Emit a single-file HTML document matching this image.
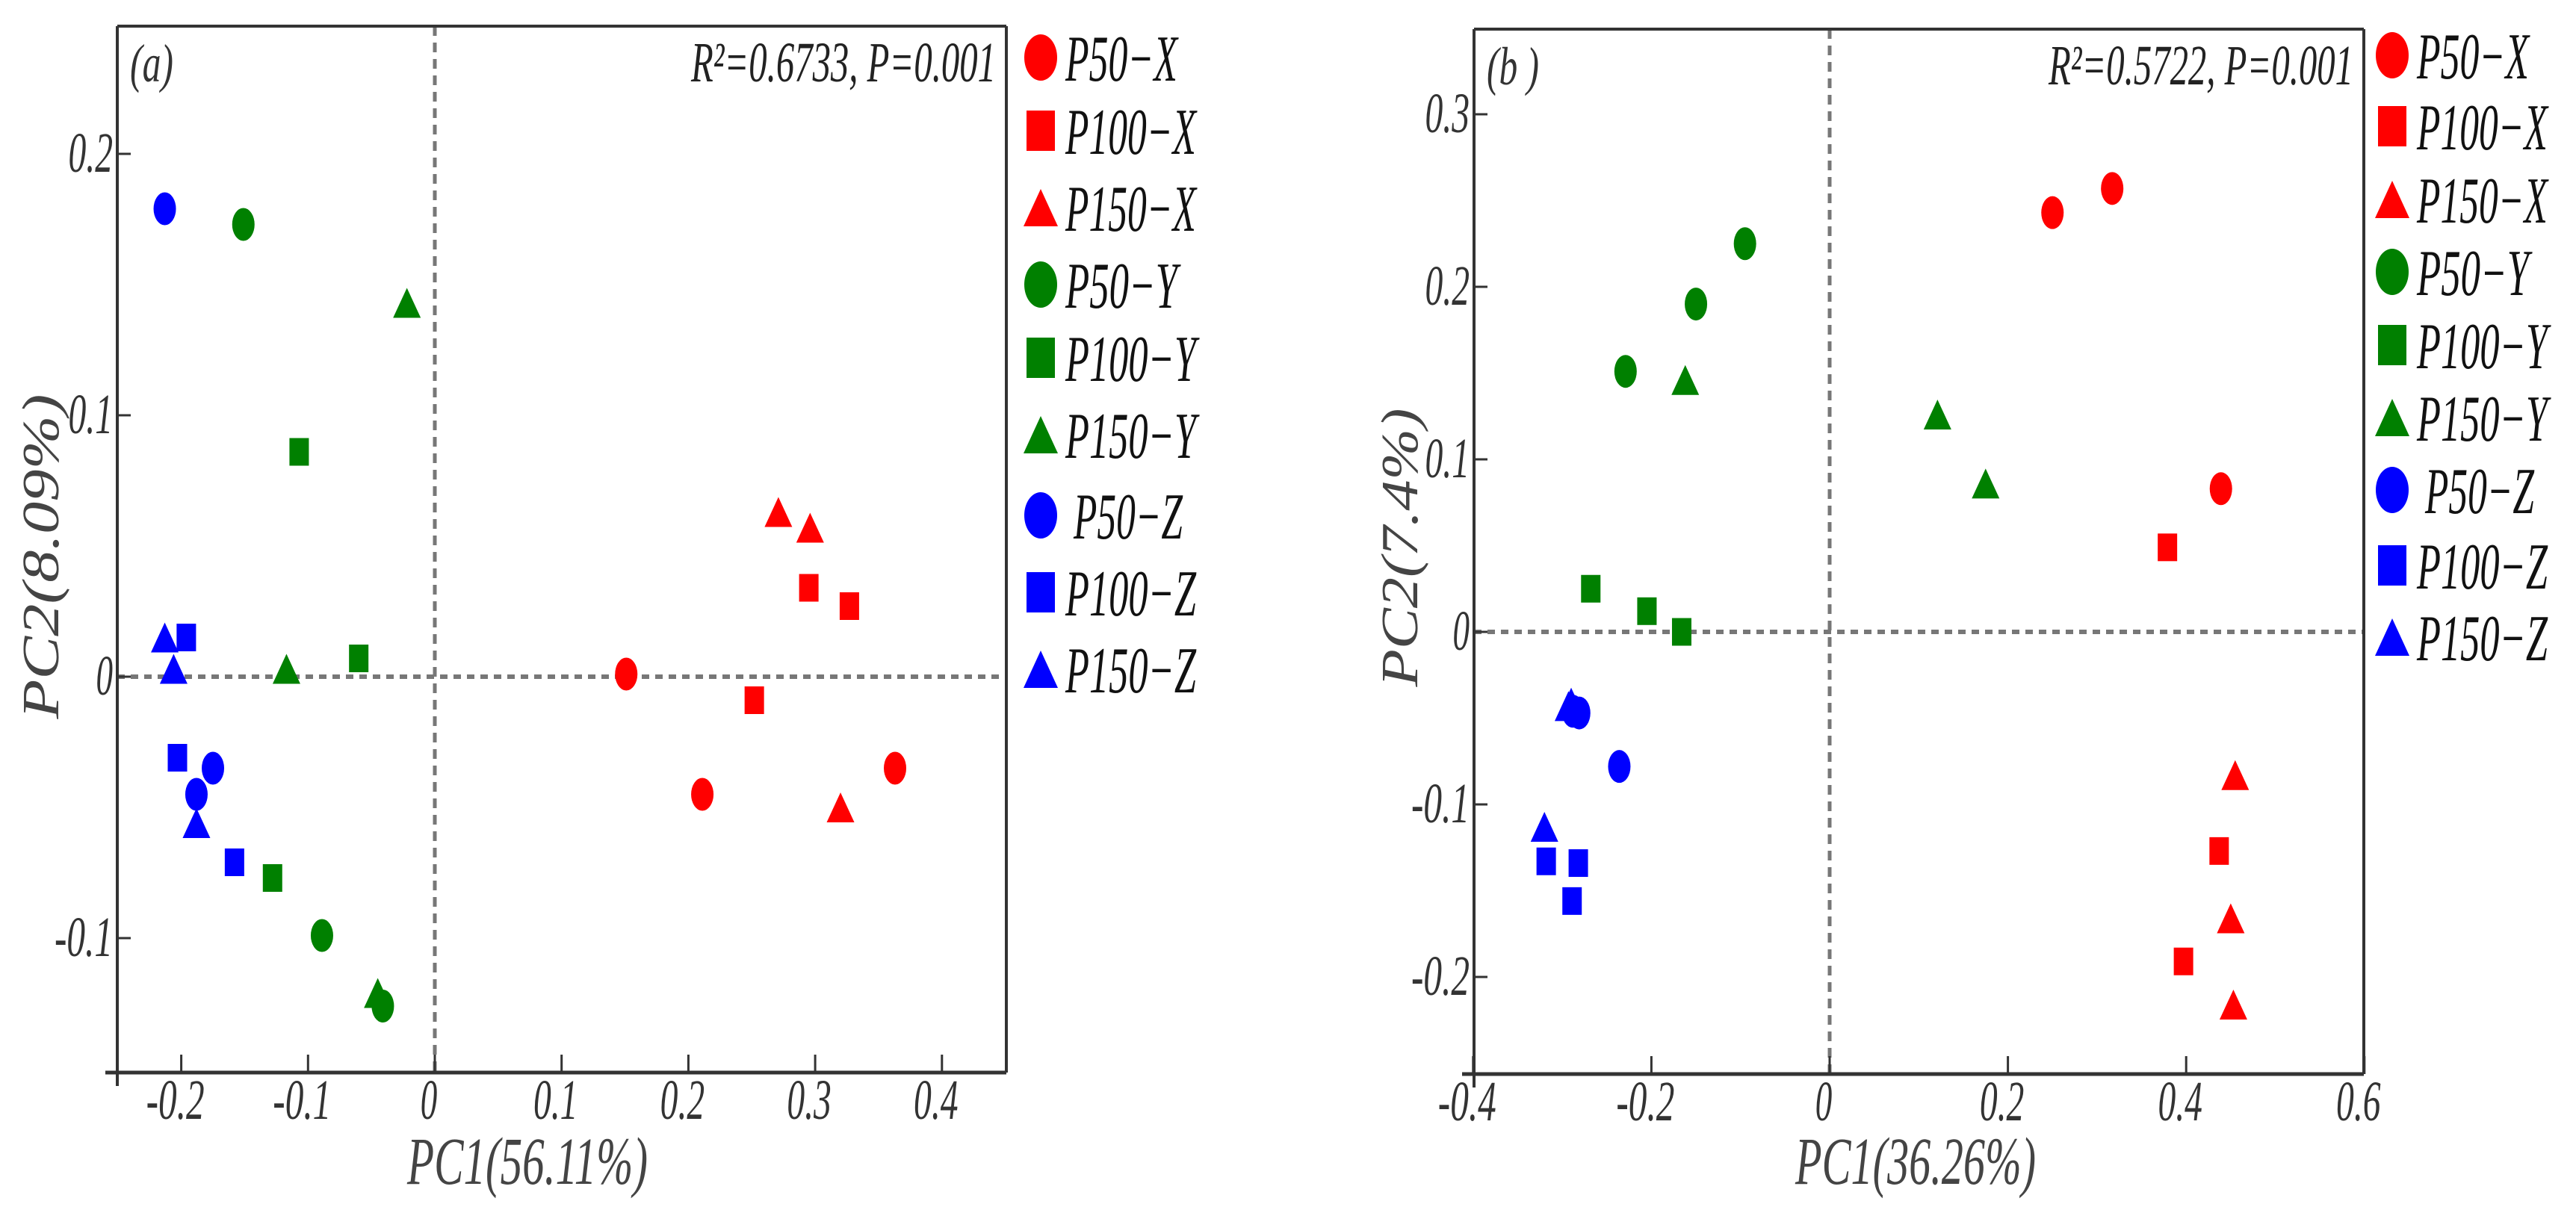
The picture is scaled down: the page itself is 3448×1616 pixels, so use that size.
<!DOCTYPE html>
<html><head><meta charset="utf-8"><style>
html,body{margin:0;padding:0;background:#fff;}
svg{display:block;}
text{font-family:"Liberation Serif",serif;font-style:italic;}
</style></head><body>
<svg id="fig" width="3448" height="1616" viewBox="0 0 3448 1616" xmlns="http://www.w3.org/2000/svg"></svg>
<script>
// ---- shared data ----
const groups = ["P50-X","P100-X","P150-X","P50-Y","P100-Y","P150-Y","P50-Z","P100-Z","P150-Z"];
const groupLabels = ["P50\u2212X","P100\u2212X","P150\u2212X","P50\u2212Y","P100\u2212Y","P150\u2212Y","P50\u2212Z","P100\u2212Z","P150\u2212Z"];
const groupColors = ["#ff0000","#ff0000","#ff0000","#008000","#008000","#008000","#0000ff","#0000ff","#0000ff"];
const groupShapes = ["circle","square","triangle","circle","square","triangle","circle","square","triangle"];

// ---- panel (a) data: PC1 / PC2 per group (3 samples each) ----
const aPC1 = [
  [0.151, 0.211, 0.363],
  [0.295, 0.327, 0.252],
  [0.271, 0.296, 0.320],
  [-0.151, -0.089, -0.041],
  [-0.107, -0.060, -0.128],
  [-0.022, -0.117, -0.045],
  [-0.213, -0.175, -0.188],
  [-0.196, -0.203, -0.158],
  [-0.213, -0.206, -0.188]
];
const aPC2 = [
  [0.001, -0.045, -0.035],
  [0.034, 0.027, -0.009],
  [0.063, 0.057, -0.050],
  [0.173, -0.099, -0.126],
  [0.086, 0.007, -0.077],
  [0.143, 0.003, -0.121],
  [0.179, -0.035, -0.045],
  [0.015, -0.031, -0.071],
  [0.015, 0.003, -0.056]
];
const aXTicks = [-0.2, -0.1, 0, 0.1, 0.2, 0.3, 0.4];
const aXTickLabels = ["-0.2","-0.1","0","0.1","0.2","0.3","0.4"];
const aYTicks = [-0.1, 0, 0.1, 0.2];
const aYTickLabels = ["-0.1","0","0.1","0.2"];

// ---- panel (b) data ----
const bPC1 = [
  [0.250, 0.317, 0.439],
  [0.379, 0.437, 0.397],
  [0.455, 0.450, 0.453],
  [-0.095, -0.150, -0.229],
  [-0.268, -0.205, -0.166],
  [-0.162, 0.121, 0.175],
  [-0.281, -0.236, -0.288],
  [-0.318, -0.282, -0.289],
  [-0.290, -0.320, -0.293]
];
const bPC2 = [
  [0.243, 0.257, 0.083],
  [0.049, -0.127, -0.191],
  [-0.083, -0.166, -0.216],
  [0.225, 0.190, 0.151],
  [0.025, 0.012, 0.000],
  [0.146, 0.126, 0.086],
  [-0.047, -0.078, -0.046],
  [-0.133, -0.134, -0.156],
  [-0.041, -0.113, -0.043]
];
const bXTicks = [-0.4, -0.2, 0, 0.2, 0.4, 0.6];
const bXTickLabels = ["-0.4","-0.2","0","0.2","0.4","0.6"];
const bYTicks = [-0.2, -0.1, 0, 0.1, 0.2, 0.3];
const bYTickLabels = ["-0.2","-0.1","0","0.1","0.2","0.3"];

const NS = "http://www.w3.org/2000/svg";
const svg = document.getElementById("fig");
function mk(tag, attrs, parent){
  const e = document.createElementNS(NS, tag);
  for (const k in attrs) e.setAttribute(k, attrs[k]);
  (parent||svg).appendChild(e);
  return e;
}
function drawMarker(shape, cx, cy, w, h, color, parent){
  let e;
  if (shape === "circle") e = mk("ellipse", {cx:cx, cy:cy, rx:w/2, ry:h/2, fill:color}, parent);
  else if (shape === "square") e = mk("rect", {x:cx-w/2, y:cy-h/2, width:w, height:h, fill:color}, parent);
  else e = mk("polygon", {points:(cx)+","+(cy-h/2)+" "+(cx+w/2)+","+(cy+h/2)+" "+(cx-w/2)+","+(cy+h/2), fill:color}, parent);
  return e;
}

function panel(cfg){
  const g = mk("g", {});
  
  
  const sx = v => cfg.x0 + v * cfg.pxX;
  const sy = v => cfg.y0 - v * cfg.pxY;
  const L = cfg.left, R = cfg.right, T = cfg.top, B = cfg.bottom;

  // zero lines
  const vz = mk("line", {x1:sx(0), y1:T, x2:sx(0), y2:B, stroke:"#777", "stroke-width":5, "stroke-dasharray":"13 9"}, g);
  
  
  const hz = mk("line", {x1:L, y1:sy(0), x2:R, y2:sy(0), stroke:"#777", "stroke-width":6, "stroke-dasharray":"10 8"}, g);
  
  

  // frame
  const top = mk("line", {x1:L, y1:T, x2:R, y2:T, stroke:"#333", "stroke-width":4}, g);
  
  
  const right = mk("line", {x1:R, y1:T, x2:R, y2:B, stroke:"#333", "stroke-width":4}, g);
  
  
  const xa = mk("line", {x1:L-16, y1:B, x2:R, y2:B, stroke:"#333", "stroke-width":5}, g);
  
  
  const ya = mk("line", {x1:L, y1:T, x2:L, y2:B+18, stroke:"#333", "stroke-width":4}, g);
  
  

  // x ticks
  cfg.xTicks.forEach((v,i)=>{
    const t = mk("line", {x1:sx(v), y1:B, x2:sx(v), y2:B-24, stroke:"#333", "stroke-width":3}, g);
    
    
    const lab = cfg.xTickLabels[i];
    const tx = mk("text", {x:sx(v)-8, y:B+62, "text-anchor":"middle", "font-size":76, fill:"#333", textLength:lab.length*18.5+4, lengthAdjust:"spacingAndGlyphs"}, g);
    tx.textContent = lab;
    
    
  });
  // y ticks
  cfg.yTicks.forEach((v,i)=>{
    const t = mk("line", {x1:L, y1:sy(v), x2:L+18, y2:sy(v), stroke:"#333", "stroke-width":3}, g);
    
    
    const lab = cfg.yTickLabels[i];
    const tx = mk("text", {x:L-6, y:sy(v)+24, "text-anchor":"end", "font-size":76, fill:"#333", textLength:lab.length*18.5+4, lengthAdjust:"spacingAndGlyphs"}, g);
    tx.textContent = lab;
    
    
  });

  // axis titles
  const xt = mk("text", {x:cfg.xTitleX, y:1585, "text-anchor":"middle", "font-size":90, fill:"#444", textLength:322, lengthAdjust:"spacingAndGlyphs"}, g);
  xt.textContent = cfg.xTitle;
  
  
  const yt = mk("text", {x:0, y:0, "text-anchor":"middle", "font-size":70, fill:"#444", textLength:cfg.yTitleLen, lengthAdjust:"spacingAndGlyphs", transform:"translate("+(cfg.yTitleX)+","+cfg.yTitleY+") rotate(-90)"}, g);
  yt.textContent = cfg.yTitle;
  
  

  // panel letter and stats
  const pl = mk("text", {x:L+17, y:T+74, "font-size":72, fill:"#333", textLength:cfg.letterLen, lengthAdjust:"spacingAndGlyphs"}, g);
  pl.textContent = cfg.letter;
  
  
  const st = mk("text", {x:R-14, y:T+74, "text-anchor":"end", "font-size":76, fill:"#222", textLength:408, lengthAdjust:"spacingAndGlyphs"}, g);
  st.textContent = cfg.stat;
  
  

  // points
  groups.forEach((gname, gi)=>{
    const pg = mk("g", {}, g);
    
    
    cfg.pc1[gi].forEach((xv, k)=>{
      const yv = cfg.pc2[gi][k];
      const sh = groupShapes[gi];
      const w = sh==="circle"?30:(sh==="square"?26:37);
      const h = sh==="circle"?44:(sh==="square"?37:40);
      const m = drawMarker(sh, sx(xv), sy(yv), w, h, groupColors[gi], pg);
      
      
    });
  });

  // legend
  const lg = mk("g", {}, g);
  
  
  groups.forEach((gname, gi)=>{
    const ry = cfg.legendRows[gi];
    const sh = groupShapes[gi];
    const w = sh==="circle"?44:(sh==="square"?38:46);
    const h = sh==="circle"?62:(sh==="square"?54:50);
    const m = drawMarker(sh, cfg.legendX, ry, w, h, groupColors[gi], lg);
    
    
    const lab = groupLabels[gi];
    const isZ50 = gi===6;
    const tx = mk("text", {x:cfg.legendX+33+(isZ50?11:0), y:ry+31, "font-size":88, fill:"#111", textLength:(lab.length===5?150:175)-(isZ50?4:0), lengthAdjust:"spacingAndGlyphs"}, lg);
    tx.textContent = lab;
    
    
  });
}

panel({
  name:"panel-a", left:157, right:1347, top:35, bottom:1436,
  x0:582, pxX:1697, y0:906, pxY:3500,
  xTicks:aXTicks, xTickLabels:aXTickLabels, yTicks:aYTicks, yTickLabels:aYTickLabels,
  pc1:aPC1, pc2:aPC2,
  xTitle:"PC1(56.11%)", xTitleX:706,
  yTitle:"PC2(8.09%)", yTitleX:78, yTitleY:745, yTitleLen:435,
  letter:"(a)", letterLen:58, stat:"R\u00B2=0.6733, P=0.001",
  legendX:1393, legendRows:[77,175,278,381,479,582,690,793,896]
});
panel({
  name:"panel-b", left:1973, right:3164, top:39, bottom:1438,
  x0:2449, pxX:1193, y0:846, pxY:2310,
  xTicks:bXTicks, xTickLabels:bXTickLabels, yTicks:bYTicks, yTickLabels:bYTickLabels,
  pc1:bPC1, pc2:bPC2,
  xTitle:"PC1(36.26%)", xTitleX:2564,
  yTitle:"PC2(7.4%)", yTitleX:1897, yTitleY:733, yTitleLen:373,
  letter:"(b )", letterLen:70, stat:"R\u00B2=0.5722, P=0.001",
  legendX:3202, legendRows:[74,169,267,364,462,559,656,757,853]
});
</script>
</body></html>
